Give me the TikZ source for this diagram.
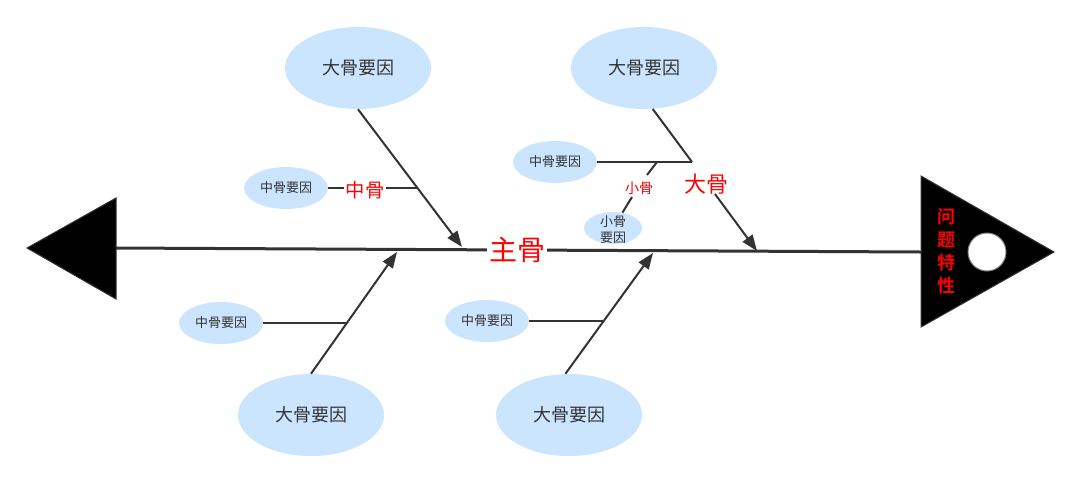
\documentclass[tikz,border=0pt]{standalone}
\usepackage{fontspec}
\setmainfont{Noto Sans CJK SC}[BoldFont={Noto Sans CJK SC Bold}]
\usetikzlibrary{shapes.geometric,arrows.meta}
\definecolor{bluefill}{HTML}{CCE5FF}
\definecolor{ink}{HTML}{333333}
\definecolor{redtxt}{HTML}{FF0000}
\begin{document}
\begin{tikzpicture}[x=0.75pt,y=-0.75pt,
  bigcause/.style={ellipse,fill=bluefill,minimum width=109.5pt,minimum height=61.5pt,inner sep=0pt,text=ink,font=\fontsize{13.5}{16}\selectfont},
  midcause/.style={ellipse,fill=bluefill,minimum width=63pt,minimum height=31.5pt,inner sep=0pt,text=ink,font=\fontsize{9.75}{12}\selectfont},
  smallcause/.style={ellipse,fill=bluefill,minimum width=43.5pt,minimum height=24pt,inner sep=0pt},
  smalltext/.style={text=ink,font=\fontsize{9.75}{11.5}\selectfont,align=center,inner sep=0pt},
  bone/.style={draw=ink,line width=1.5pt},
  arrowbone/.style={bone,-{Triangle[length=12pt,width=9pt]}},
  spine/.style={draw=ink,line width=2.25pt},
  redlabel/.style={text=redtxt,inner sep=1pt},
  headshape/.style={fill=black,draw=ink,line width=0.75pt,line join=miter},
]
\useasboundingbox (0,0) rectangle (1080,483);

% heads
\coordinate (lb) at (116,248);
\coordinate (rb) at (921,252);
\filldraw[headshape] (27,248) -- (116,198) -- (116,299) -- cycle;
\filldraw[headshape] (921,176) -- (1054,252) -- (921,327) -- cycle;
\node[circle,fill=white,draw=gray,line width=0.75pt,minimum size=28.5pt,inner sep=0pt] (hole) at (987,252) {};
\node[text=redtxt,font=\bfseries\fontsize{13.5}{17.25}\selectfont,align=center,inner sep=0pt] (prob) at (946,251) {问\\题\\特\\性};

% spine
\draw[spine] (lb) -- (rb);
\node[redlabel,fill=white,inner xsep=1.5pt,font=\fontsize{21}{24}\selectfont] (mainlab) at (517,250) {主骨};

% cause nodes
\node[bigcause] (c1) at (358,68) {大骨要因};
\node[bigcause] (c2) at (644,68) {大骨要因};
\node[bigcause] (c3) at (311,415) {大骨要因};
\node[bigcause] (c4) at (569,415) {大骨要因};
\node[midcause] (m1) at (286,188) {中骨要因};
\node[midcause] (m2) at (555,162) {中骨要因};
\node[midcause] (m3) at (221,323) {中骨要因};
\node[midcause] (m4) at (487,321) {中骨要因};
\node[smallcause] (s1) at (613,228) {};
\node[smalltext] (s1t) at (613,229.5) {小骨\\要因};

% upper-left bone
\coordinate (t1) at (462,247);
\coordinate (j1) at (418,188);
\draw[arrowbone] (c1.south) -- (t1);
\draw[bone] (m1.east) -- (j1);
\node[redlabel,fill=white,inner xsep=1pt,font=\fontsize{14.5}{17}\selectfont] (l1) at (365,190) {中骨};

% upper-right bone
\coordinate (j2) at (692,162);
\coordinate (k2) at (715,194);
\coordinate (t2) at (757,251);
\draw[bone] (c2.-78) -- (j2);
\draw[arrowbone] (k2) -- (t2);
\node[redlabel,font=\fontsize{16.5}{19}\selectfont] (l2) at (706,184) {大骨};
\draw[bone] (m2.east) -- (j2);
\coordinate (p1) at (657,162);
\coordinate (p2) at (647,175);
\coordinate (p3) at (632,197);
\draw[bone] (p1) -- (p2);
\draw[bone] (p3) -- (s1);
\node[redlabel,font=\fontsize{10.5}{12}\selectfont] (l3) at (639,188) {小骨};

% lower-left bone
\coordinate (t3) at (397,252);
\coordinate (j3) at (346,323);
\draw[arrowbone] (c3.north) -- (t3);
\draw[bone] (m3.east) -- (j3);

% lower-right bone
\coordinate (t4) at (653,253);
\coordinate (j4) at (603,321);
\draw[arrowbone] (c4.95) -- (t4);
\draw[bone] (m4.east) -- (j4);
\end{tikzpicture}
\end{document}
